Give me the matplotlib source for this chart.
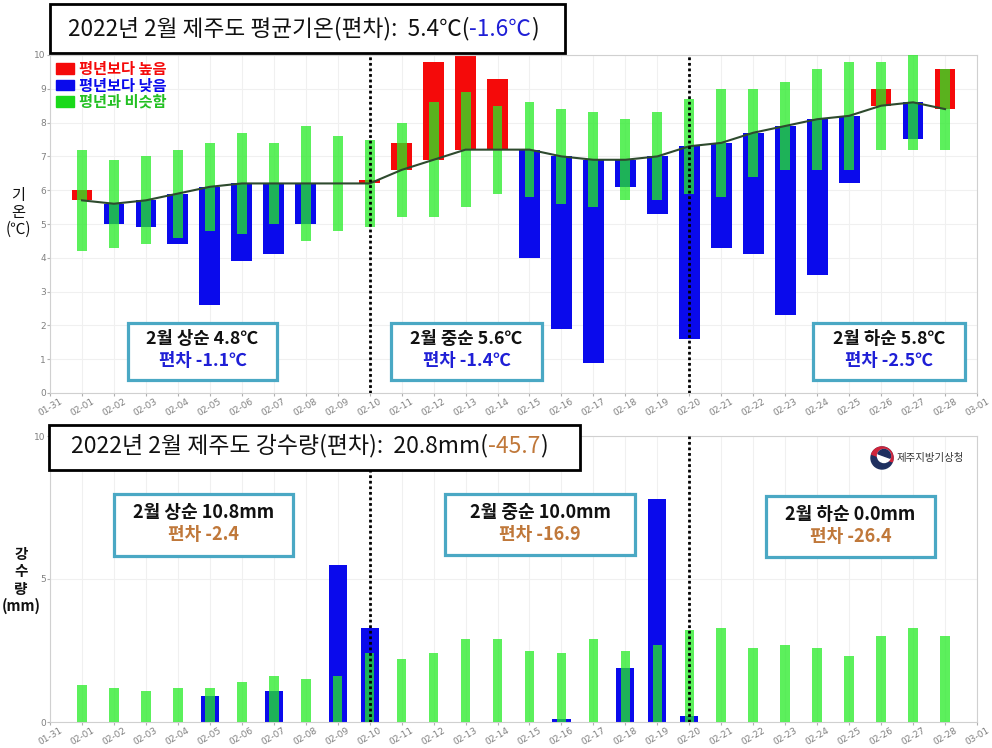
import matplotlib
matplotlib.use("Agg")
import matplotlib.pyplot as plt
from matplotlib.patches import Rectangle, Circle, Wedge
import numpy as np

plt.rcParams['font.family'] = ['Noto Sans CJK KR', 'DejaVu Sans']

# ---------------- data ----------------
tick_labels = ['01-31'] + ['02-%02d' % d for d in range(1, 29)] + ['03-01']
days = ['02-%02d' % d for d in range(1, 29)]

temp_normal = [5.7, 5.6, 5.7, 5.9, 6.1, 6.2, 6.2, 6.2, 6.2, 6.2,
               6.6, 6.9, 7.2, 7.2, 7.2, 7.0, 6.9, 6.9, 7.0, 7.3,
               7.4, 7.7, 7.9, 8.1, 8.2, 8.5, 8.6, 8.4]
temp_actual = [6.0, 5.0, 4.9, 4.4, 2.6, 3.9, 4.1, 5.0, 6.2, 6.3,
               7.4, 9.8, 10.0, 9.3, 4.0, 1.9, 0.9, 6.1, 5.3, 1.6,
               4.3, 4.1, 2.3, 3.5, 6.2, 9.0, 7.5, 9.6]
similar_low = [4.2, 4.3, 4.4, 4.6, 4.8, 4.7, 5.0, 4.5, 4.8, 4.9,
               5.2, 5.2, 5.5, 5.9, 5.8, 5.6, 5.5, 5.7, 5.7, 5.9,
               5.8, 6.4, 6.6, 6.6, 6.6, 7.2, 7.2, 7.2]
similar_high = [7.2, 6.9, 7.0, 7.2, 7.4, 7.7, 7.4, 7.9, 7.6, 7.5,
                8.0, 8.6, 8.9, 8.5, 8.6, 8.4, 8.3, 8.1, 8.3, 8.7,
                9.0, 9.0, 9.2, 9.6, 9.8, 9.8, 10.0, 9.6]

rain_actual = [0, 0, 0, 0, 0.9, 0, 1.1, 0, 5.5, 3.3,
               0, 0, 0, 0, 0, 0.1, 0, 1.9, 7.8, 0.2,
               0, 0, 0, 0, 0, 0, 0, 0]
rain_normal = [1.3, 1.2, 1.1, 1.2, 1.2, 1.4, 1.6, 1.5, 1.6, 2.4,
               2.2, 2.4, 2.9, 2.9, 2.5, 2.4, 2.9, 2.5, 2.7, 3.2,
               3.3, 2.6, 2.7, 2.6, 2.3, 3.0, 3.3, 3.0]

temp_box_main = ['2월 상순 4.8℃', '2월 중순 5.6℃', '2월 하순 5.8℃']
temp_box_dev = ['편차 -1.1℃', '편차 -1.4℃', '편차 -2.5℃']
rain_box_main = ['2월 상순 10.8mm', '2월 중순 10.0mm', '2월 하순 0.0mm']
rain_box_dev = ['편차 -2.4', '편차 -16.9', '편차 -26.4']

# ---------------- style ----------------
RED = '#f50a0a'
BLUE = '#0a0aec'
GREEN = (0.15, 0.92, 0.15)
GREEN_A = 0.75
LINE = '#2e4a2e'
BOXC = '#4aa8c4'
DEVBLUE = '#1f1fd6'
BROWN = '#c0783a'
GRID = '#f0f0f0'
TICKC = '#808080'

W, H = 992, 748
fig = plt.figure(figsize=(W / 100, H / 100), dpi=100)

def ax_rect(l, t, r, b):
    return [l / W, 1 - b / H, (r - l) / W, (b - t) / H]

x = np.arange(1, len(days) + 1)
xt = np.arange(len(tick_labels))

def style_axes(ax):
    ax.set_xlim(0, len(tick_labels) - 1)
    ax.set_xticks(xt)
    ax.set_xticklabels(tick_labels, rotation=30, ha='center', fontsize=6.5,
                       color=TICKC, family='DejaVu Sans')
    ax.tick_params(axis='both', length=2, color='#b0b0b0', labelsize=6.5,
                   labelcolor=TICKC, pad=1)
    for s in ax.spines.values():
        s.set_color('#d0d0d0')
        s.set_linewidth(0.8)
    ax.grid(True, color=GRID, lw=0.8, zorder=0)
    ax.set_axisbelow(True)
    for d in (10, 20):
        ax.axvline(d, color='black', ls=(0, (1, 1)), lw=2, zorder=6)

# ---------------- top: temperature ----------------
ax1 = fig.add_axes(ax_rect(50, 55, 977, 393))
diff = [a - n for a, n in zip(temp_actual, temp_normal)]
cols = [RED if d > 0 else BLUE for d in diff]
ax1.bar(x, diff, bottom=temp_normal, width=0.65, color=cols, zorder=2)
ax1.bar(x, [h - l for h, l in zip(similar_high, similar_low)], bottom=similar_low,
        width=0.31, color=GREEN, alpha=GREEN_A, zorder=3)
ax1.plot(x, temp_normal, color=LINE, lw=1.5, zorder=4)
ax1.set_ylim(0, 10)
ax1.set_yticks(range(0, 11))
style_axes(ax1)
for lbl in ax1.get_yticklabels():
    lbl.set_family('DejaVu Sans')

leg_handles = [Rectangle((0, 0), 1, 1, color=RED),
               Rectangle((0, 0), 1, 1, color=BLUE),
               Rectangle((0, 0), 1, 1, color=(0.1, 0.85, 0.1))]
leg = ax1.legend(leg_handles, ['평년보다 높음', '평년보다 낮음', '평년과 비슷함'],
                 loc='upper left', frameon=False,
                 labelcolor=[RED, BLUE, '#22c022'], handlelength=1.2,
                 handleheight=0.7, handletextpad=0.3, labelspacing=0.02,
                 borderpad=0.1, borderaxespad=0.3,
                 prop={'weight': 'bold', 'size': 11})
leg.set_zorder(7)

# ---------------- bottom: precipitation ----------------
ax2 = fig.add_axes(ax_rect(50, 436, 977, 722))
ax2.bar(x, rain_actual, width=0.57, color=BLUE, zorder=2)
ax2.bar(x, rain_normal, width=0.3, color=GREEN, alpha=GREEN_A, zorder=3)
ax2.set_ylim(0, 10)
ax2.set_yticks([0, 5, 10])
style_axes(ax2)
for lbl in ax2.get_yticklabels():
    lbl.set_family('DejaVu Sans')

# ---------------- overlay for decorations ----------------
ov = fig.add_axes([0, 0, 1, 1], zorder=20)
ov.set_xlim(0, W)
ov.set_ylim(H, 0)
ov.axis('off')
ov.patch.set_alpha(0)

renderer = fig.canvas.get_renderer()

def multi_text(x0, y0, parts, size, weight='normal'):
    cx = x0
    for s, c in parts:
        t = ov.text(cx, y0, s, color=c, fontsize=size, weight=weight,
                    ha='left', va='center')
        bb = t.get_window_extent(renderer)
        cx = bb.x1

def box(l, t, r, b, ec, lw):
    ov.add_patch(Rectangle((l, t), r - l, b - t, facecolor='white',
                           edgecolor=ec, lw=lw, zorder=1))

# title boxes
box(50, 4, 565, 53, 'black', 2)
multi_text(68, 29, [('2022년 2월 제주도 평균기온(편차):  5.4℃(', '#111111'),
                    ('-1.6℃', DEVBLUE), (')', '#111111')], 16.3, 'medium')
box(49, 425, 580, 470, 'black', 2)
multi_text(71, 446, [('2022년 2월 제주도 강수량(편차):  20.8mm(', '#111111'),
                     ('-45.7', BROWN), (')', '#111111')], 16.5, 'medium')

# annotation boxes - temperature
tboxes = [(128, 323, 277, 380), (391, 323, 542, 380), (813, 323, 965, 380)]
for (l, t, r, b), m, d in zip(tboxes, temp_box_main, temp_box_dev):
    box(l, t, r, b, BOXC, 2.3)
    cx = (l + r) / 2
    ov.text(cx, t + 16, m, ha='center', va='center', fontsize=12.8,
            weight='bold', color='#111111', zorder=2)
    ov.text(cx, t + 38, d, ha='center', va='center', fontsize=12.8,
            weight='bold', color=DEVBLUE, zorder=2)

# annotation boxes - precipitation
rboxes = [(114, 494, 293, 556), (445, 494, 635, 555), (766, 496, 935, 557)]
for (l, t, r, b), m, d in zip(rboxes, rain_box_main, rain_box_dev):
    box(l, t, r, b, BOXC, 2.3)
    cx = (l + r) / 2
    ov.text(cx, t + 19, m, ha='center', va='center', fontsize=13,
            weight='bold', color='#111111', zorder=2)
    ov.text(cx, t + 41, d, ha='center', va='center', fontsize=13,
            weight='bold', color=BROWN, zorder=2)

# y labels
ov.text(18, 212, '기\n온\n(℃)', ha='center', va='center', fontsize=11,
        color='#111111', linespacing=1.0)
ov.text(21, 580, '강\n수\n량\n(mm)', ha='center', va='center', fontsize=10.5,
        weight='bold', color='#111111', linespacing=1.1)

# logo
ov.add_patch(Circle((882, 458), 11, color='#1f2f5f', zorder=3))
ov.add_patch(Wedge((882, 458), 11, 200, 20, color='#d0243a', zorder=3))
ov.add_patch(Circle((884, 456), 6.5, color='white', zorder=4))
ov.add_patch(Wedge((884, 456), 6.5, 200, 20, color='#1f2f5f', zorder=4))
ov.text(897, 458, '제주지방기상청', ha='left', va='center', fontsize=7.5,
        color='#333333', zorder=4)

fig.savefig('out.png', dpi=100)
